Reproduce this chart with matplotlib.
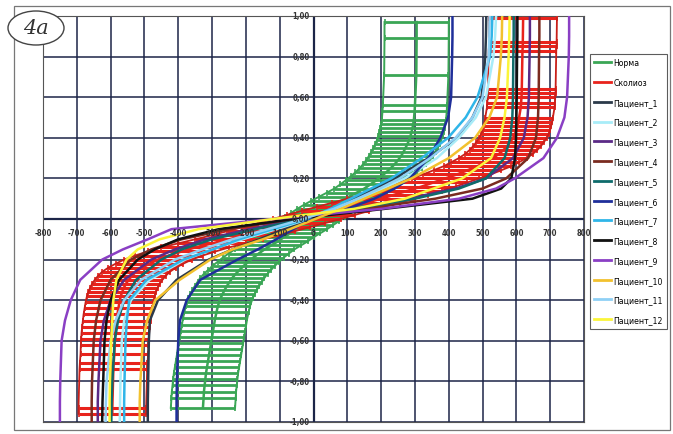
import matplotlib
matplotlib.use('Agg')
import matplotlib.pyplot as plt
from matplotlib.patches import Ellipse, Rectangle
from matplotlib.lines import Line2D

# ---------------- data ----------------
x_ticks = [-800, -700, -600, -500, -400, -300, -200, -100, 0, 100, 200, 300, 400, 500, 600, 700, 800]
y_ticks = [-1.0, -0.8, -0.6, -0.4, -0.2, 0.0, 0.2, 0.4, 0.6, 0.8, 1.0]

# Норма (mean with horizontal error bars)
norm_y = [0.97, 0.89, 0.71, 0.56, 0.53, 0.49, 0.47, 0.45, 0.43, 0.41, 0.39, 0.37, 0.35, 0.33, 0.31,
          0.29, 0.27, 0.25, 0.23, 0.21, 0.19, 0.17, 0.15, 0.13, 0.11, 0.09, 0.07, 0.05, 0.03, 0.01,
          -0.01, -0.03, -0.05, -0.07, -0.09, -0.11, -0.13, -0.15, -0.17, -0.19, -0.21, -0.23, -0.25,
          -0.27, -0.29, -0.31, -0.33, -0.35, -0.37, -0.39, -0.41, -0.43, -0.46, -0.49, -0.52, -0.55,
          -0.58, -0.61, -0.64, -0.67, -0.70, -0.73, -0.76, -0.79, -0.82, -0.85, -0.88, -0.93]
norm_x = [305, 305, 304, 300, 299, 297, 295, 293, 290, 287, 283, 278, 272, 266, 259,
          250, 240, 228, 215, 200, 185, 168, 150, 128, 105, 82, 60, 40, 22, 5,
          -12, -30, -48, -68, -88, -105, -125, -145, -162, -178, -192, -206, -218,
          -230, -240, -248, -256, -263, -269, -275, -279, -283, -287, -291, -294, -297,
          -300, -303, -306, -309, -312, -315, -318, -320, -322, -324, -325, -327]
norm_err = [95, 95, 95, 95, 95, 95, 95, 95, 95, 95, 95, 95, 95, 95, 95,
            94, 93, 92, 91, 90, 90, 89, 88, 88, 88, 88, 88, 88, 88, 88,
            88, 88, 88, 88, 88, 88, 88, 88, 89, 90, 91, 92, 93,
            94, 95, 95, 95, 95, 95, 95, 95, 95, 95, 95, 95, 95,
            95, 95, 95, 95, 95, 95, 95, 95, 95, 95, 95, 95]

# Сколиоз (mean with horizontal error bars)
scol_y = [0.99, 0.87, 0.85, 0.83, 0.64, 0.62, 0.60, 0.57, 0.55, 0.50, 0.48, 0.46, 0.44, 0.42, 0.40,
          0.38, 0.36, 0.34, 0.32, 0.30, 0.28, 0.26, 0.24, 0.22, 0.20, 0.18, 0.16, 0.14, 0.12, 0.10,
          0.08, 0.06, 0.04, 0.02, 0.00, -0.02, -0.04, -0.06, -0.08, -0.10, -0.12, -0.14, -0.16,
          -0.18, -0.20, -0.22, -0.24, -0.26, -0.28, -0.30, -0.32, -0.34, -0.36, -0.38, -0.41,
          -0.44, -0.47, -0.50, -0.53, -0.56, -0.59, -0.62, -0.665, -0.71, -0.74, -0.93, -0.96]
scol_x = [620, 619, 619, 618, 616, 616, 615, 614, 613, 608, 606, 603, 600, 596, 590,
          582, 573, 562, 548, 530, 508, 485, 455, 425, 390, 355, 320, 280, 240, 200,
          155, 110, 65, 22, -20, -65, -110, -155, -200, -250, -300, -350, -390,
          -428, -460, -485, -507, -525, -537, -547, -555, -561, -566, -570, -574,
          -577, -580, -582, -584, -586, -587, -588, -589, -591, -592, -595, -595]
scol_err = [100] * len(scol_x)

# Patients: x value at each common y level
pat_y = [-1, -0.9, -0.8, -0.6, -0.5, -0.4, -0.3, -0.2, -0.15, -0.1, -0.05, 0,
         0.05, 0.1, 0.15, 0.2, 0.3, 0.4, 0.5, 0.6, 0.8, 0.9, 1]
p1_x = [-490, -490, -489, -487, -484, -460, -405, -310, -240, -160, -85, -10,
        60, 120, 180, 240, 340, 425, 470, 497, 508, 510, 511]
p2_x = [-573, -572, -571, -567, -560, -540, -485, -380, -300, -210, -110, -15,
        70, 140, 205, 270, 365, 430, 480, 510, 532, 537, 540]
p3_x = [-638, -638, -636, -630, -620, -600, -560, -480, -410, -320, -190, -40,
        110, 280, 420, 510, 590, 622, 633, 637, 639, 640, 640]
p4_x = [-656, -656, -655, -650, -643, -630, -600, -540, -480, -390, -250, -60,
        150, 360, 500, 570, 635, 658, 664, 666, 667, 668, 668]
p5_x = [-598, -597, -595, -588, -578, -560, -525, -450, -390, -300, -170, -30,
        120, 300, 430, 510, 565, 582, 588, 590, 591, 592, 592]
p6_x = [-405, -405, -404, -400, -395, -375, -335, -225, -165, -110, -60, -10,
        100, 180, 240, 285, 340, 375, 398, 407, 410, 411, 411]
p7_x = [-560, -560, -559, -556, -552, -545, -494, -385, -298, -220, -120, -20,
        50, 110, 170, 230, 320, 398, 450, 485, 522, 527, 529]
p8_x = [-625, -624, -622, -618, -612, -600, -575, -520, -470, -400, -280, -60,
        210, 470, 555, 585, 596, 599, 600, 601, 602, 603, 603]
p9_x = [-750, -750, -749, -745, -735, -718, -690, -625, -564, -490, -420, -120,
        200, 430, 540, 595, 680, 720, 742, 750, 755, 756, 756]
p10_x = [-514, -514, -512, -505, -492, -468, -396, -305, -240, -150, -70, 5,
         80, 150, 220, 290, 400, 478, 520, 543, 554, 557, 558]
p11_x = [-615, -614, -612, -600, -585, -560, -510, -410, -330, -240, -135, -30,
         60, 130, 195, 255, 345, 420, 470, 500, 518, 520, 521]
p12_x = [-603, -603, -602, -598, -595, -592, -583, -553, -520, -455, -340, -120,
         120, 270, 355, 440, 525, 552, 565, 572, 577, 579, 580]

patients = [
    ("Пациент_1", p1_x, "#2b3a4a"),
    ("Пациент_2", p2_x, "#a8ecf8"),
    ("Пациент_3", p3_x, "#5b2a86"),
    ("Пациент_4", p4_x, "#7a2b20"),
    ("Пациент_5", p5_x, "#0e6b6b"),
    ("Пациент_6", p6_x, "#1f2f9a"),
    ("Пациент_7", p7_x, "#2fb5e8"),
    ("Пациент_8", p8_x, "#111111"),
    ("Пациент_9", p9_x, "#8a3fc4"),
    ("Пациент_10", p10_x, "#f2c12e"),
    ("Пациент_11", p11_x, "#8fd0f5"),
    ("Пациент_12", p12_x, "#fbf53a"),
]

GREEN = "#3aa655"
RED = "#e8231c"
GRID = "#1c2548"

# ---------------- figure ----------------
fig = plt.figure(figsize=(6.73, 4.35), dpi=100)
ax = fig.add_axes([43 / 673, 12 / 435, (584 - 43) / 673, (423 - 17) / 435])
ax.set_xlim(-800, 800)
ax.set_ylim(-1, 1)

ax.set_xticks(x_ticks)
ax.set_yticks(y_ticks)
ax.tick_params(length=0, labelbottom=False, labelleft=False)
ax.grid(True, color=GRID, lw=1.1, zorder=0)
ax.axhline(0, color=GRID, lw=1.6, zorder=1)
ax.axvline(0, color=GRID, lw=1.6, zorder=1)
for s in ax.spines.values():
    s.set_color("#555555")
    s.set_linewidth(0.8)

# Норма
ax.errorbar(norm_x, norm_y, xerr=norm_err, fmt='-', color=GREEN, lw=1.8,
            elinewidth=2.0, capsize=2, capthick=1.2, zorder=3)
ax.plot([a - b for a, b in zip(norm_x, norm_err)], norm_y, color=GREEN, lw=1.4, zorder=3)
ax.plot([a + b for a, b in zip(norm_x, norm_err)], norm_y, color=GREEN, lw=1.4, zorder=3)

# Сколиоз
ax.errorbar(scol_x, scol_y, xerr=scol_err, fmt='-', color=RED, lw=1.8,
            elinewidth=2.2, capsize=2, capthick=1.2, zorder=4)
ax.plot([a - b for a, b in zip(scol_x, scol_err)], scol_y, color="#c8201a", lw=1.3, zorder=4)
ax.plot([a + b for a, b in zip(scol_x, scol_err)], scol_y, color="#c8201a", lw=1.3, zorder=4)

handles = [Line2D([], [], color=GREEN, lw=2.0), Line2D([], [], color=RED, lw=2.0)]
labels = ["Норма", "Сколиоз"]
for name, xs, col in patients:
    ax.plot(xs, pat_y, color=col, lw=1.8, zorder=5)
    handles.append(Line2D([], [], color=col, lw=2.0))
    labels.append(name)

# tick labels drawn at the crossing axes
for xt in x_ticks:
    ax.text(xt, -0.065, f"{xt}", ha='center', va='center', fontsize=5.5,
            fontweight='bold', fontstretch='condensed', color="#333333", zorder=6)
for yt in y_ticks:
    ax.text(-12, yt, f"{yt:.2f}".replace('.', ','), ha='right', va='center', fontsize=5.5,
            fontweight='bold', fontstretch='condensed', color="#333333", zorder=6)

# legend
leg = fig.legend(handles, labels, loc='upper left', bbox_to_anchor=(590 / 673, 1 - 55 / 435),
                 bbox_transform=fig.transFigure, frameon=True, fancybox=False,
                 prop=dict(size=6.2, stretch='condensed'), labelspacing=1.25,
                 handlelength=1.9, handletextpad=0.3, borderpad=0.5, borderaxespad=0)
leg.get_frame().set_edgecolor("#333333")
leg.get_frame().set_linewidth(0.8)

# outer frame and the "4a" label
fig.patches.append(Rectangle((14 / 673, 4 / 435), 656 / 673, 424 / 435, transform=fig.transFigure,
                             fill=False, edgecolor="#777777", lw=0.9))
fig.patches.append(Ellipse((36 / 673, 1 - 29 / 435), 56 / 673, 34 / 435, transform=fig.transFigure,
                           fill=True, facecolor='white', edgecolor="#444444", lw=1.0, zorder=10))
fig.text(36 / 673, 1 - 29 / 435, "4a", ha='center', va='center', fontsize=15, style='italic',
         family='DejaVu Serif', color="#333333", zorder=11)

fig.savefig("out.png", dpi=100)
